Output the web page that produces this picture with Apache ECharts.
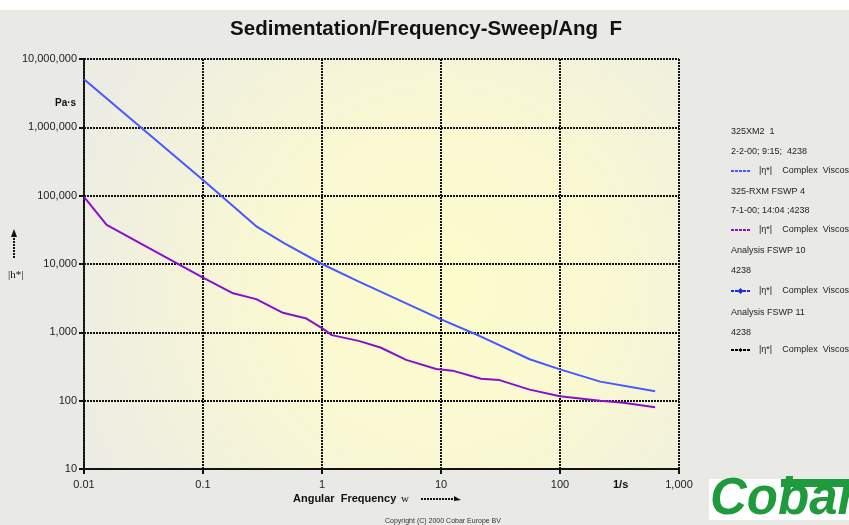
<!DOCTYPE html>
<html>
<head>
<meta charset="utf-8">
<script src="https://cdn.jsdelivr.net/npm/echarts@6/dist/echarts.min.js"></script>
<style>
  html, body { margin: 0; padding: 0; background: #e9e9e5; }
  #main { width: 849px; height: 525px; }
</style>
</head>
<body>
<div id="main"></div>
<script>
// angular frequency (1/s) and complex viscosity (Pa·s)
var blueFreq = [0.01, 0.1, 0.285, 0.48, 1, 2.02, 10, 21, 55.6, 100, 218, 630];
var blueVisc = [5070000, 170000, 34900, 20200, 10000, 5580, 1550, 890, 404, 287, 190, 137];

var purpleFreq = [0.01, 0.0155, 0.1, 0.179, 0.28, 0.47, 0.74, 1.0, 1.21, 2.03, 3.1, 5.1, 9.1, 12.5, 21.7, 31, 55.6, 100, 218, 340, 630];
var purpleVisc = [96000, 37400, 6300, 3730, 3060, 1930, 1590, 1150, 910, 750, 600, 395, 290, 275, 209, 200, 145, 116, 100, 93, 80];

var xTickLabels = ['0.01', '0.1', '1', '10', '100', '1,000'];
var yTickLabels = ['10', '100', '1,000', '10,000', '100,000', '1,000,000', '10,000,000'];

var legendHeaders = [
    ['325XM2  1', 132],
    ['2-2-00; 9:15;  4238', 152],
    ['325-RXM FSWP 4', 192],
    ['7-1-00; 14:04 ;4238', 211],
    ['Analysis FSWP 10', 251],
    ['4238', 271],
    ['Analysis FSWP 11', 313],
    ['4238', 333]
];
var legendRows = [
    {y: 171, color: '#4658ff', marker: 0},
    {y: 230, color: '#8a10c8', marker: 0},
    {y: 291, color: '#1a2be8', marker: 6},
    {y: 350, color: '#000000', marker: 4}
];

function pairs(xs, ys){
    var out = [];
    for (var i = 0; i < xs.length; i++) out.push([xs[i], ys[i]]);
    return out;
}

var gridDash = {color: '#111', width: 2, type: [2, 1]};
var smallFont = '9px "Liberation Sans", Arial';

var graphics = [
    {type: 'rect', left: 0, top: 0, shape: {width: 849, height: 10}, style: {fill: '#ffffff'}, silent: true},
    // y axis name
    {type: 'text', left: 55, top: 98, style: {text: 'Pa·s', font: 'bold 10px "Liberation Sans", Arial', fill: '#111'}},
    {type: 'text', left: 8, top: 270, style: {text: '|h*|', font: '11px "Liberation Serif", serif', fill: '#111'}},
    {type: 'line', shape: {x1: 14, y1: 258, x2: 14, y2: 236}, style: {stroke: '#111', lineWidth: 2, lineDash: [2, 1]}},
    {type: 'polygon', shape: {points: [[11, 237], [17, 237], [14, 229]]}, style: {fill: '#111'}},
    // x axis name
    {type: 'text', left: 293, top: 493, style: {text: 'Angular  Frequency', font: 'bold 11px "Liberation Sans", Arial', fill: '#111'}},
    {type: 'text', left: 401, top: 494, style: {text: 'w', font: '11px "Liberation Serif", serif', fill: '#111'}},
    {type: 'line', shape: {x1: 421, y1: 499, x2: 455, y2: 499}, style: {stroke: '#111', lineWidth: 2, lineDash: [2, 1]}},
    {type: 'polygon', shape: {points: [[454, 496], [454, 501], [461, 500]]}, style: {fill: '#111'}},
    {type: 'text', left: 613, top: 479, style: {text: '1/s', font: 'bold 11px "Liberation Sans", Arial', fill: '#111'}},
    // copyright + logo
    {type: 'text', left: 385, top: 518, style: {text: 'Copyright (C) 2000 Cobar Europe BV', font: '7px "Liberation Sans", Arial', fill: '#333'}},
    {type: 'rect', left: 709, top: 479, shape: {width: 140, height: 41}, style: {fill: '#ffffff'}},
    {type: 'rect', left: 781, top: 479, shape: {width: 68, height: 8}, style: {fill: '#1f9a3c'}},
    {type: 'text', left: 710, top: 474, style: {text: 'Cobar', font: 'italic bold 51px "Liberation Sans", Arial', fill: '#1f9a3c'}}
];
legendHeaders.forEach(function(h){
    graphics.push({type: 'text', left: 731, top: h[1] - 5,
        style: {text: h[0], font: smallFont, fill: '#222'}});
});
legendRows.forEach(function(r){
    graphics.push({type: 'line', shape: {x1: 731, y1: r.y, x2: 750, y2: r.y},
        style: {stroke: r.color, lineWidth: 2, lineDash: [3, 1]}});
    if (r.marker) {
        var m = r.marker / 2;
        graphics.push({type: 'polygon', shape: {points: [[740.5 - m, r.y], [740.5, r.y - m], [740.5 + m, r.y], [740.5, r.y + m]]},
            style: {fill: r.color}});
    }
    graphics.push({type: 'text', left: 759, top: r.y - 5,
        style: {text: '|η*|    Complex  Viscosity', font: smallFont, fill: '#222'}});
});

var chart = echarts.init(document.getElementById('main'));
chart.setOption({
    backgroundColor: '#e9e9e5',
    animation: false,
    title: {
        text: 'Sedimentation/Frequency-Sweep/Ang  F',
        left: 421, top: 14, textAlign: 'center',
        textStyle: {fontFamily: '"Liberation Sans", Arial', fontWeight: 'bold', fontSize: 20.5, color: '#111'}
    },
    grid: {
        left: 84, right: 170, top: 59, bottom: 56,
        show: true, borderWidth: 0,
        backgroundColor: {
            type: 'radial', x: 0.6, y: 0.55, r: 0.95,
            colorStops: [
                {offset: 0, color: '#fdfccb'},
                {offset: 0.45, color: '#f9f8d3'},
                {offset: 1, color: '#ecece4'}
            ]
        }
    },
    xAxis: {
        type: 'log', logBase: 10, min: 0.01, max: 1000,
        axisLine: {show: true, onZero: false, lineStyle: gridDash},
        axisTick: {show: true, length: 5, lineStyle: {color: '#111', width: 2}},
        axisLabel: {
            margin: 10, fontFamily: '"Liberation Sans", Arial', fontSize: 11, color: '#222',
            formatter: function(v, i){ return xTickLabels[i]; }
        },
        splitLine: {show: true, lineStyle: gridDash}
    },
    yAxis: {
        type: 'log', logBase: 10, min: 10, max: 10000000, splitNumber: 6,
        axisLine: {show: true, lineStyle: gridDash},
        axisTick: {show: true, length: 5, lineStyle: {color: '#111', width: 2}},
        axisLabel: {
            margin: 7, fontFamily: '"Liberation Sans", Arial', fontSize: 11, color: '#222',
            formatter: function(v, i){ return yTickLabels[i]; }
        },
        splitLine: {show: true, lineStyle: gridDash}
    },
    series: [
        {name: 'A', type: 'line', data: pairs(blueFreq, blueVisc), symbol: 'none',
            lineStyle: {width: 2, color: '#4658ff'}},
        {name: 'B', type: 'line', data: pairs(purpleFreq, purpleVisc), symbol: 'none',
            lineStyle: {width: 2, color: '#8a10c8'}}
    ],
    graphic: graphics
});
</script>
</body>
</html>
